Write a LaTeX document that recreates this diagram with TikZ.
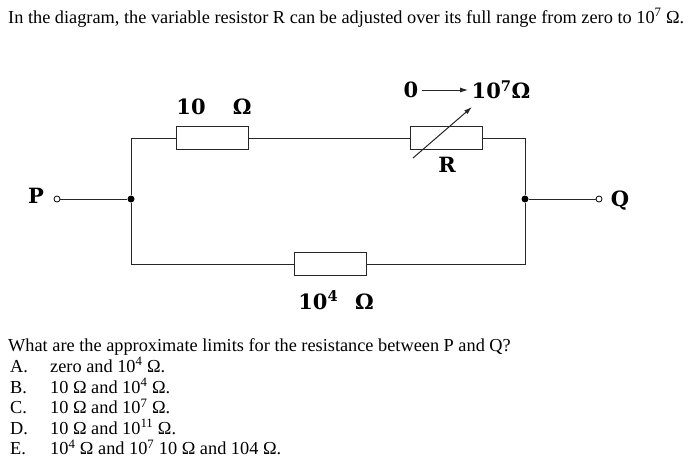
\documentclass[tikz,border=0pt]{standalone}
\usepackage{fontspec}
\setmainfont{Liberation Serif}
\newfontfamily\labfont{DejaVu Serif}
\usetikzlibrary{arrows.meta}
\tikzset{
  wire/.style={line width=1pt,black!85},
  res/.style={draw,line width=1pt,black!85,fill=white,minimum width=72pt,minimum height=23pt,inner sep=0pt},
  jdot/.style={circle,fill=black,inner sep=0pt,minimum size=7pt},
  term/.style={circle,draw,line width=0.8pt,fill=white,inner sep=0pt,minimum size=6pt},
  lab/.style={font=\labfont\fontsize{21}{25}\selectfont\bfseries},
  txt/.style={font=\fontsize{18.3}{21}\selectfont,anchor=base west,inner sep=0pt},
}
\begin{document}
\begin{tikzpicture}[x=1pt,y=-1pt]
\useasboundingbox (0,0) rectangle (688,466);
%question
\node[txt] (title) at (8,23) {In the diagram, the variable resistor R can be adjusted over its full range from zero to 10\textsuperscript{7}~Ω.};

%circuit
\node[jdot] (jl) at (131,199) {};
\node[jdot] (jr) at (525,199) {};
\node[term] (pt) at (57,199) {};
\node[term] (qt) at (599,199) {};
\node[lab] (plab) at (36,196) {P};
\node[lab] (qlab) at (620,201) {Q};
\node[res] (res10) at (212,138) {};
\node[res] (resR) at (446,138) {};
\node[res] (res4) at (330,264) {};

\draw[wire] (pt) -- (jl);
\draw[wire] (jr) -- (qt);
\draw[wire] (jl) |- (res10.west);
\draw[wire] (res10.east) -- (resR.west);
\draw[wire] (resR.east) -| (jr);
\draw[wire] (jl) |- (res4.west);
\draw[wire] (res4.east) -| (jr);

%variable arrow
\coordinate (va) at (413,158);
\coordinate (vb) at (472,107);
\draw[wire,-{Latex[length=8pt,width=5pt]}] (va) -- (vb);

\node[lab] (l10) at (214,107) {10\hspace{1.3em}Ω};
\node[lab] (zero) at (411,90) {0};
\node[lab] (rmax) at (501,90) {10\textsuperscript{7}Ω};
\draw[wire,-{Latex[length=8pt,width=5pt]}] (zero) -- (rmax);
\node[lab] (lR) at (447,165) {R};
\node[lab] (l4) at (336,300) {10\textsuperscript{4}\hspace{0.8em}Ω};

%answers
\node[txt] (ask) at (8,351) {What are the approximate limits for the resistance between P and Q?};
\node[txt] (optA) at (10,372) {A.};
\node[txt] (ansA) at (50,372) {zero and 10\textsuperscript{4}~Ω.};
\node[txt] (optB) at (10,393) {B.};
\node[txt] (ansB) at (50,393) {10~Ω and 10\textsuperscript{4}~Ω.};
\node[txt] (optC) at (10,413.5) {C.};
\node[txt] (ansC) at (50,413.5) {10~Ω and 10\textsuperscript{7}~Ω.};
\node[txt] (optD) at (10,434) {D.};
\node[txt] (ansD) at (50,434) {10~Ω and 10\textsuperscript{11}~Ω.};
\node[txt] (optE) at (10,454.5) {E.};
\node[txt] (ansE) at (50,454.5) {10\textsuperscript{4}~Ω and 10\textsuperscript{7} 10~Ω and 104~Ω.};
\end{tikzpicture}
\end{document}
